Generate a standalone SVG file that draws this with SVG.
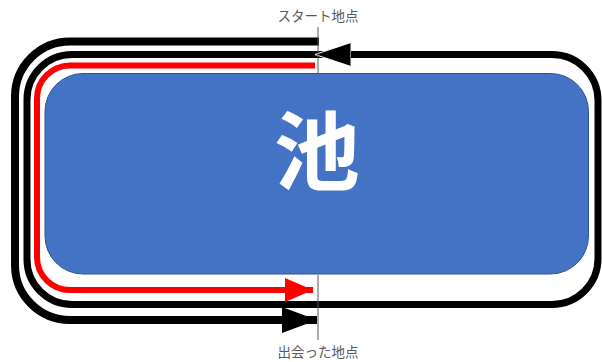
<svg xmlns="http://www.w3.org/2000/svg" width="602" height="362" viewBox="0 0 602 362">
<style>
.lbl{font-family:"Noto Sans CJK JP","Noto Sans",sans-serif;font-size:13.5px;fill:#595959;text-anchor:middle}
.pond{font-family:"Noto Sans CJK JP","Noto Sans",sans-serif;font-size:86px;font-weight:bold;fill:#ffffff;text-anchor:middle}
.route{fill:none;stroke-linejoin:round}
.guide{stroke:#595959;stroke-width:1}
</style>
<defs>
<marker id="ahBlack" markerUnits="userSpaceOnUse" markerWidth="36" markerHeight="26" refX="35" refY="13" orient="auto">
<path d="M0,0 L35,13 L0,26 Z" fill="#000000"/>
</marker>
<marker id="ahBlackTop" markerUnits="userSpaceOnUse" markerWidth="38" markerHeight="24" refX="36" refY="12" orient="auto">
<path d="M0,0 L36,12 L0,24 Z" fill="#000000" stroke="#ffffff" stroke-width="1"/>
</marker>
<marker id="ahRed" markerUnits="userSpaceOnUse" markerWidth="30" markerHeight="24" refX="28" refY="12" orient="auto">
<path d="M0,0 L28,12 L0,24 Z" fill="#ff0000"/>
</marker>
</defs>
<g id="pond">
<rect x="45" y="73.5" width="543.5" height="200.5" rx="38" ry="38" fill="#4472C4" stroke="#2F528F" stroke-width="1"/>
<text class="pond" x="317" y="184">池</text>
</g>
<g id="connectors">
<path class="route" d="M319,41.5 H70 A55,55 0 0 0 15,96.5 V265 A55,55 0 0 0 70,320 H317" stroke="#000000" stroke-width="8" marker-end="url(#ahBlack)"/>
<path class="route" d="M318,54.5 H72 A45,45 0 0 0 27,99.5 V259.5 A45,45 0 0 0 72,304.5 H552 A46,46 0 0 0 598,258.5 V100.5 A46,46 0 0 0 552,54.5 H315" stroke="#000000" stroke-width="7" marker-end="url(#ahBlackTop)"/>
<path class="route" d="M315,65.5 H70 A33,33 0 0 0 37,98.5 V257 A33,33 0 0 0 70,290 H313" stroke="#ff0000" stroke-width="6" marker-end="url(#ahRed)"/>
<line class="guide" x1="318" y1="27" x2="318" y2="73"/>
<line class="guide" x1="318" y1="275" x2="318" y2="340"/>
</g>
<g id="labels">
<text class="lbl" x="318" y="21">スタート地点</text>
<text class="lbl" x="318" y="357">出会った地点</text>
</g>
</svg>
